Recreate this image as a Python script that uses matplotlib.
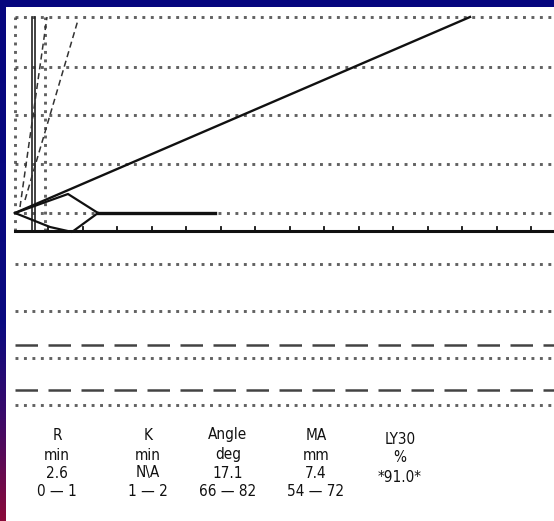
# ==== IMPORT ================================================================ #

import matplotlib
matplotlib.use("Agg")

import matplotlib.pyplot as plt
import numpy             as np
from matplotlib.colors import LinearSegmentedColormap

# ==== DATA ================================================================== #

# trace, chart units (x along time, y amplitude above the trace centre line)
upper_arm_x = [0, 455]
upper_arm_y = [0, 196]

lysis_top_x = [0, 53, 83]
lysis_top_y = [0, 19, 0]

lysis_bot_x = [0, 35, 57, 83]
lysis_bot_y = [0, -14, -19, 0]

flat_x = [83, 200]
flat_y = [0, 0]

# chart paper
grid_top    = [0, 49, 98, 146, 196]
grid_bottom = [-51, -98, -145, -192]
dash_bottom = [-132, -177]
baseline_y  = -18
tick_x      = [33 + 34.5 * k for k in range(15)]

# result table
labels = ["R", "K", "Angle", "MA"]
units  = ["min", "min", "deg", "mm"]
values = ["2.6", "N\\A", "17.1", "7.4"]
ranges = ["0 \u2014 1", "1 \u2014 2", "66 \u2014 82", "54 \u2014 72"]
ly30   = ["LY30", "%", "*91.0*"]

# ==== FIGURE ================================================================ #

W, H = 554, 521
fig = plt.figure(figsize=(W / 100, H / 100), dpi=100)

# frame gradient
bg = fig.add_axes([0, 0, 1, 1])
cmap = LinearSegmentedColormap.from_list(
    "frame", [(0, "#06067e"), (0.62, "#0a0a80"), (0.8, "#3a0a6a"), (1, "#8a0a3a")])
bg.imshow(np.linspace(0, 1, 200)[:, None], aspect="auto", cmap=cmap,
          extent=[0, 1, 0, 1], origin="upper")
bg.set_xlim(0, 1)
bg.set_ylim(0, 1)
bg.axis("off")

# white paper, data units chosen so x = px - 15, y = 213 - py
ax = fig.add_axes([6 / W, 0, 1 - 6 / W, 1 - 7 / H])
ax.set_xlim(-9, W - 15)
ax.set_ylim(213 - H, 213 - 7)
ax.set_facecolor("white")
for s in ax.spines.values():
    s.set_visible(False)
ax.set_xticks([])
ax.set_yticks([])

dot  = dict(color="#3a3a3a", lw=2.1, ls=(0, (1, 1.9)), alpha=0.8)
dash = dict(color="#222222", lw=1.8, ls=(0, (9, 4.2)), alpha=0.85)

for g in grid_top:
    ax.plot([0, W], [g, g], **dot)
for g in grid_bottom:
    ax.plot([0, W], [g, g], **dot)
for g in dash_bottom:
    ax.plot([0, W], [g, g], **dash)

# verticals at the start
ax.plot([0, 0], [baseline_y, 196], **dot)
ax.plot([30, 30], [baseline_y, 196], **dot)
ax.plot([17, 17], [baseline_y, 196], color="#222", lw=1.2)
ax.plot([20, 20], [baseline_y, 196], color="#222", lw=1.2)
ax.plot([10, 63], [13, 193], color="#333", lw=1.1, ls=(0, (4, 2.5)))
ax.plot([5, 32], [6, 196], color="#333", lw=1.1, ls=(0, (4, 2.5)))

# baseline with ticks
ax.plot([0, W], [baseline_y, baseline_y], color="#111", lw=2.2)
for t in tick_x:
    ax.plot([t, t], [baseline_y, baseline_y + 4], color="#111", lw=1.3)

# trace
ax.plot(upper_arm_x, upper_arm_y, color="#111", lw=1.7)
ax.plot(lysis_top_x, lysis_top_y, color="#111", lw=1.6)
ax.plot(lysis_bot_x, lysis_bot_y, color="#111", lw=1.6)
ax.plot(flat_x, flat_y, color="#111", lw=2.4)

# result table
font = dict(family=["DejaVu Sans"], fontstretch="condensed", fontsize=11,
            color="#111", ha="center", va="center")
col_x = [42, 133, 213, 301]
rows  = [labels, units, values, ranges]
row_y = [213 - 435, 213 - 455, 213 - 473, 213 - 492]
for r, yy in zip(rows, row_y):
    for txt, xx in zip(r, col_x):
        ax.text(xx, yy, txt, **font)
for txt, yy in zip(ly30, [213 - 440, 213 - 458, 213 - 477]):
    ax.text(385, yy, txt, **font)

fig.savefig("out.png", dpi=100)
